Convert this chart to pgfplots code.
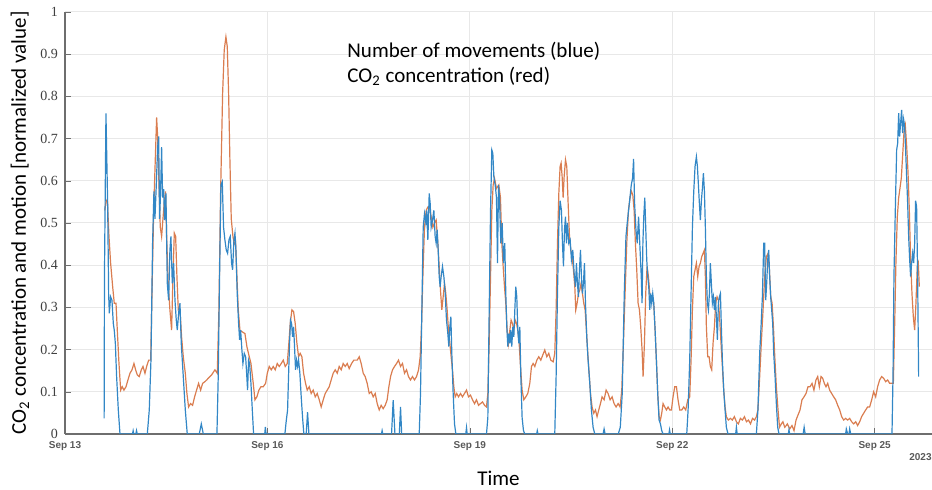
\documentclass[border=0pt]{standalone}
\usepackage{fontspec}
\setmainfont{Carlito}
\newfontfamily\tickserif{Liberation Serif}
\newfontfamily\ticksans{Liberation Sans}
\usepackage{pgfplots}
\pgfplotsset{compat=1.18}
\definecolor{mblue}{RGB}{50,135,198}
\definecolor{morange}{RGB}{218,125,80}
\definecolor{gridgray}{RGB}{232,232,232}
\definecolor{axgray}{RGB}{110,110,110}

% x = days after Sep 13 00:00
\pgfplotstableread{
d v
0.59 0.53
0.607 0.55
0.627 0.556
0.652 0.468
0.676 0.405
0.706 0.35
0.73 0.31
0.756 0.31
0.775 0.246
0.8 0.167
0.825 0.104
0.849 0.112
0.874 0.104
0.904 0.112
0.933 0.128
0.963 0.144
0.993 0.152
1.022 0.167
1.047 0.152
1.072 0.14
1.1 0.136
1.131 0.152
1.156 0.16
1.185 0.144
1.21 0.16
1.24 0.175
1.27 0.175
1.289 0.33
1.314 0.527
1.338 0.65
1.358 0.75
1.373 0.705
1.393 0.59
1.412 0.49
1.432 0.468
1.452 0.51
1.47 0.547
1.49 0.575
1.51 0.45
1.53 0.357
1.555 0.294
1.58 0.246
1.6 0.373
1.62 0.476
1.64 0.468
1.659 0.373
1.679 0.294
1.704 0.294
1.728 0.23
1.753 0.183
1.783 0.144
1.807 0.096
1.832 0.064
1.862 0.072
1.891 0.068
1.921 0.088
1.95 0.104
1.98 0.12
2.01 0.104
2.04 0.12
2.074 0.124
2.1 0.128
2.123 0.132
2.173 0.14
2.222 0.152
2.257 0.144
2.281 0.294
2.306 0.57
2.336 0.807
2.36 0.91
2.385 0.941
2.405 0.918
2.425 0.807
2.444 0.65
2.464 0.51
2.489 0.468
2.508 0.45
2.528 0.456
2.548 0.373
2.568 0.294
2.593 0.246
2.627 0.242
2.667 0.238
2.696 0.207
2.731 0.183
2.756 0.167
2.79 0.12
2.815 0.081
2.844 0.088
2.874 0.104
2.904 0.112
2.938 0.112
2.973 0.12
2.998 0.144
3.027 0.16
3.057 0.152
3.086 0.16
3.116 0.152
3.146 0.167
3.175 0.16
3.205 0.167
3.235 0.175
3.264 0.16
3.294 0.167
3.318 0.215
3.338 0.262
3.363 0.294
3.388 0.29
3.412 0.262
3.437 0.215
3.462 0.183
3.486 0.191
3.511 0.183
3.536 0.144
3.565 0.12
3.59 0.104
3.62 0.112
3.649 0.096
3.679 0.104
3.709 0.088
3.738 0.096
3.768 0.081
3.797 0.064
3.827 0.081
3.857 0.096
3.886 0.104
3.916 0.112
3.945 0.128
3.975 0.144
4.005 0.152
4.035 0.144
4.064 0.16
4.094 0.152
4.123 0.167
4.153 0.16
4.183 0.167
4.212 0.155
4.247 0.167
4.281 0.175
4.331 0.175
4.361 0.183
4.39 0.167
4.42 0.144
4.449 0.136
4.479 0.12
4.509 0.096
4.538 0.1
4.568 0.088
4.598 0.096
4.627 0.072
4.657 0.057
4.686 0.068
4.716 0.06
4.746 0.068
4.775 0.081
4.8 0.112
4.825 0.136
4.854 0.152
4.884 0.16
4.914 0.167
4.943 0.175
4.973 0.16
5.002 0.167
5.032 0.144
5.062 0.152
5.091 0.136
5.121 0.128
5.15 0.136
5.18 0.128
5.21 0.136
5.24 0.152
5.264 0.183
5.284 0.254
5.304 0.373
5.328 0.49
5.353 0.53
5.378 0.538
5.402 0.538
5.427 0.515
5.452 0.49
5.476 0.5
5.501 0.507
5.526 0.452
5.546 0.397
5.565 0.341
5.585 0.294
5.605 0.325
5.625 0.357
5.644 0.333
5.664 0.294
5.684 0.246
5.704 0.215
5.723 0.183
5.743 0.152
5.763 0.112
5.783 0.088
5.807 0.096
5.832 0.088
5.862 0.096
5.891 0.088
5.921 0.096
5.951 0.104
5.98 0.088
6.01 0.092
6.04 0.081
6.07 0.072
6.099 0.081
6.129 0.068
6.158 0.072
6.188 0.076
6.218 0.068
6.247 0.064
6.267 0.096
6.287 0.215
6.307 0.373
6.326 0.53
6.346 0.59
6.366 0.606
6.395 0.582
6.43 0.59
6.454 0.56
6.474 0.452
6.494 0.397
6.514 0.349
6.533 0.31
6.553 0.246
6.573 0.215
6.593 0.246
6.612 0.27
6.632 0.262
6.652 0.246
6.672 0.27
6.692 0.262
6.711 0.246
6.731 0.215
6.751 0.16
6.775 0.104
6.8 0.081
6.83 0.088
6.859 0.096
6.889 0.12
6.914 0.16
6.938 0.167
6.963 0.16
6.993 0.175
7.022 0.183
7.052 0.175
7.081 0.187
7.111 0.199
7.141 0.183
7.17 0.191
7.2 0.175
7.235 0.171
7.259 0.191
7.279 0.294
7.299 0.452
7.319 0.57
7.338 0.634
7.353 0.642
7.368 0.61
7.383 0.56
7.398 0.61
7.418 0.65
7.437 0.634
7.457 0.547
7.477 0.468
7.496 0.436
7.516 0.42
7.536 0.389
7.556 0.349
7.57 0.294
7.59 0.31
7.61 0.333
7.63 0.341
7.649 0.357
7.669 0.333
7.689 0.31
7.709 0.294
7.728 0.246
7.748 0.191
7.768 0.144
7.788 0.096
7.812 0.064
7.837 0.049
7.862 0.057
7.886 0.041
7.911 0.057
7.936 0.072
7.96 0.088
7.99 0.081
8.02 0.104
8.049 0.096
8.079 0.081
8.109 0.088
8.138 0.072
8.168 0.064
8.198 0.072
8.227 0.064
8.252 0.104
8.277 0.215
8.301 0.333
8.326 0.452
8.351 0.53
8.375 0.56
8.395 0.575
8.415 0.567
8.435 0.53
8.454 0.452
8.474 0.389
8.494 0.31
8.514 0.294
8.533 0.254
8.553 0.199
8.568 0.136
8.588 0.215
8.607 0.333
8.627 0.397
8.647 0.373
8.667 0.333
8.686 0.317
8.706 0.325
8.726 0.31
8.746 0.246
8.765 0.175
8.785 0.096
8.805 0.041
8.825 0.033
8.844 0.049
8.864 0.072
8.889 0.064
8.914 0.057
8.938 0.064
8.963 0.057
8.988 0.057
9.012 0.088
9.037 0.112
9.062 0.112
9.086 0.081
9.111 0.057
9.141 0.057
9.17 0.064
9.2 0.057
9.23 0.081
9.259 0.088
9.279 0.175
9.299 0.294
9.319 0.373
9.338 0.389
9.358 0.405
9.378 0.373
9.398 0.397
9.417 0.405
9.437 0.42
9.457 0.428
9.477 0.436
9.491 0.373
9.506 0.254
9.526 0.183
9.546 0.183
9.565 0.16
9.585 0.152
9.605 0.215
9.625 0.254
9.644 0.31
9.664 0.325
9.684 0.317
9.704 0.27
9.723 0.215
9.743 0.16
9.763 0.104
9.783 0.064
9.802 0.041
9.832 0.033
9.862 0.037
9.891 0.033
9.921 0.041
9.951 0.029
9.98 0.024
10.01 0.037
10.04 0.033
10.07 0.041
10.1 0.029
10.13 0.033
10.16 0.024
10.19 0.037
10.22 0.033
10.247 0.041
10.27 0.057
10.296 0.136
10.32 0.215
10.346 0.294
10.37 0.373
10.395 0.42
10.42 0.428
10.44 0.389
10.46 0.325
10.48 0.31
10.5 0.254
10.52 0.183
10.543 0.112
10.568 0.057
10.59 0.016
10.617 0.024
10.64 0.029
10.667 0.016
10.69 0.02
10.706 0.024
10.741 0.012
10.775 0.02
10.805 0.008
10.835 0.033
10.864 0.045
10.894 0.057
10.923 0.081
10.953 0.088
10.983 0.096
11.012 0.112
11.042 0.112
11.072 0.12
11.1 0.104
11.13 0.128
11.156 0.136
11.18 0.112
11.205 0.136
11.23 0.132
11.254 0.12
11.279 0.112
11.304 0.12
11.333 0.104
11.363 0.096
11.393 0.088
11.422 0.081
11.452 0.068
11.482 0.057
11.511 0.041
11.541 0.033
11.57 0.037
11.6 0.033
11.63 0.037
11.659 0.029
11.689 0.024
11.719 0.029
11.748 0.02
11.778 0.029
11.807 0.041
11.837 0.049
11.867 0.057
11.896 0.064
11.926 0.064
11.956 0.081
11.985 0.1
12.015 0.088
12.044 0.112
12.074 0.128
12.104 0.136
12.133 0.132
12.163 0.124
12.193 0.128
12.222 0.12
12.252 0.12
12.277 0.12
12.296 0.254
12.316 0.413
12.336 0.515
12.356 0.56
12.375 0.582
12.395 0.606
12.415 0.66
12.435 0.716
12.454 0.732
12.474 0.684
12.494 0.622
12.514 0.53
12.533 0.413
12.553 0.333
12.573 0.278
12.593 0.246
12.612 0.31
12.632 0.397
12.647 0.405
12.662 0.349
}\cotwo

\pgfplotstableread{
d v
0.58 0.037
0.585 0.377
0.607 0.76
0.632 0.547
0.647 0.33
0.657 0.286
0.676 0.325
0.696 0.317
0.716 0.262
0.73 0.246
0.746 0.215
0.765 0.136
0.79 0.057
0.815 0
1.0 0
1.01 0.008
1.02 0
1.05 0
1.06 0.008
1.07 0
1.22 0
1.249 0.057
1.274 0.175
1.298 0.45
1.318 0.575
1.333 0.51
1.353 0.59
1.373 0.68
1.388 0.705
1.402 0.51
1.417 0.575
1.432 0.68
1.447 0.56
1.462 0.58
1.476 0.507
1.496 0.57
1.516 0.357
1.536 0.317
1.555 0.436
1.57 0.468
1.59 0.357
1.61 0.405
1.63 0.317
1.649 0.27
1.664 0.246
1.689 0.294
1.704 0.31
1.723 0.215
1.753 0.136
1.783 0.057
1.812 0
1.99 0
2.02 0.024
2.05 0
2.252 0
2.271 0.136
2.291 0.373
2.311 0.59
2.331 0.598
2.35 0.49
2.37 0.46
2.39 0.436
2.41 0.428
2.43 0.46
2.449 0.468
2.469 0.405
2.484 0.389
2.504 0.46
2.519 0.476
2.533 0.436
2.553 0.33
2.573 0.262
2.588 0.223
2.603 0.246
2.622 0.199
2.637 0.167
2.657 0.191
2.677 0.183
2.692 0.144
2.706 0.104
2.721 0.175
2.736 0.167
2.756 0.12
2.776 0.057
2.795 0
2.96 0
2.97 0.017
2.98 0
3.259 0
3.279 0.031
3.299 0.057
3.313 0.136
3.328 0.215
3.343 0.27
3.358 0.262
3.373 0.23
3.388 0.254
3.402 0.207
3.417 0.152
3.432 0.175
3.447 0.16
3.462 0.175
3.481 0.144
3.501 0.088
3.521 0.039
3.54 0
3.575 0
3.595 0.052
3.615 0
4.69 0
4.7 0.008
4.71 0
4.84 0
4.864 0.08
4.89 0
4.955 0
4.973 0.064
4.99 0
5.25 0
5.269 0.096
5.289 0.294
5.309 0.49
5.328 0.522
5.348 0.5
5.363 0.53
5.378 0.46
5.398 0.57
5.412 0.547
5.427 0.49
5.447 0.507
5.467 0.53
5.486 0.468
5.501 0.452
5.516 0.484
5.531 0.436
5.546 0.373
5.56 0.349
5.575 0.373
5.595 0.397
5.615 0.373
5.635 0.333
5.654 0.27
5.674 0.238
5.689 0.207
5.704 0.254
5.719 0.278
5.733 0.191
5.753 0.096
5.773 0.024
5.793 0
5.94 0
5.951 0.015
5.96 0
6.247 0
6.267 0.039
6.287 0.294
6.307 0.53
6.326 0.673
6.341 0.665
6.356 0.61
6.376 0.59
6.395 0.56
6.41 0.405
6.425 0.59
6.44 0.56
6.459 0.452
6.479 0.5
6.499 0.405
6.518 0.452
6.533 0.333
6.548 0.254
6.563 0.207
6.578 0.238
6.593 0.215
6.607 0.246
6.622 0.207
6.637 0.254
6.652 0.23
6.667 0.294
6.681 0.349
6.696 0.325
6.711 0.246
6.726 0.215
6.741 0.254
6.756 0.136
6.775 0.039
6.795 0.008
6.815 0
6.99 0
7.0 0.008
7.01 0
7.259 0
7.279 0.136
7.299 0.333
7.319 0.49
7.338 0.553
7.358 0.53
7.373 0.452
7.388 0.397
7.403 0.484
7.418 0.515
7.432 0.452
7.447 0.5
7.467 0.452
7.487 0.46
7.506 0.413
7.526 0.436
7.546 0.381
7.566 0.349
7.58 0.405
7.595 0.357
7.61 0.325
7.625 0.389
7.64 0.436
7.654 0.373
7.669 0.333
7.684 0.357
7.699 0.405
7.714 0.31
7.733 0.23
7.753 0.175
7.778 0.12
7.802 0.057
7.827 0.016
7.852 0
7.975 0
7.99 0.012
8.005 0
8.2 0
8.23 0.016
8.259 0.096
8.289 0.333
8.314 0.468
8.333 0.5
8.353 0.53
8.373 0.56
8.393 0.59
8.412 0.606
8.427 0.652
8.442 0.547
8.462 0.484
8.481 0.452
8.501 0.515
8.521 0.444
8.541 0.373
8.553 0.31
8.565 0.452
8.578 0.515
8.593 0.56
8.607 0.49
8.622 0.413
8.637 0.373
8.652 0.349
8.667 0.294
8.681 0.333
8.696 0.31
8.711 0.333
8.726 0.31
8.746 0.246
8.765 0.175
8.785 0.096
8.805 0.033
8.825 0.024
8.844 0.008
8.864 0
8.95 0
8.96 0.01
8.97 0
9.215 0
9.235 0.057
9.259 0.175
9.279 0.333
9.299 0.49
9.319 0.575
9.338 0.634
9.358 0.657
9.373 0.634
9.388 0.59
9.402 0.547
9.417 0.507
9.432 0.553
9.447 0.582
9.462 0.618
9.477 0.575
9.491 0.49
9.506 0.373
9.521 0.31
9.536 0.294
9.551 0.333
9.565 0.405
9.58 0.357
9.595 0.31
9.61 0.325
9.625 0.294
9.64 0.325
9.654 0.278
9.669 0.223
9.684 0.31
9.699 0.325
9.714 0.333
9.728 0.254
9.743 0.175
9.763 0.104
9.783 0.057
9.802 0.016
9.827 0
9.94 0
9.951 0.016
9.962 0
10.247 0
10.27 0.057
10.296 0.191
10.316 0.254
10.336 0.325
10.356 0.452
10.37 0.452
10.385 0.317
10.4 0.357
10.415 0.413
10.43 0.436
10.444 0.373
10.459 0.325
10.474 0.294
10.489 0.262
10.504 0.191
10.524 0.136
10.543 0.072
10.563 0.016
10.583 0
10.72 0
10.73 0.01
10.74 0
10.94 0
10.955 0.016
10.97 0
11.57 0
11.58 0.012
11.6 0
11.62 0
11.63 0.012
11.645 0
12.257 0
12.272 0.136
12.286 0.373
12.306 0.53
12.326 0.673
12.341 0.689
12.356 0.76
12.37 0.705
12.385 0.737
12.4 0.768
12.415 0.713
12.43 0.745
12.444 0.729
12.459 0.673
12.474 0.61
12.489 0.547
12.504 0.468
12.519 0.413
12.533 0.373
12.548 0.405
12.563 0.428
12.578 0.405
12.593 0.452
12.607 0.553
12.622 0.538
12.637 0.373
12.652 0.136
}\moves

\begin{document}
\begin{tikzpicture}
\begin{axis}[
  name=ax,
  scale only axis,
  width=433.5pt, height=211pt,
  xmin=0, xmax=12.85, ymin=0, ymax=1,
  axis lines=left,
  axis line style={-, draw=axgray, line width=0.6pt},
  xtick={0,3,6,9,12},
  xticklabels={Sep 13,Sep 16,Sep 19,Sep 22,Sep 25},
  ytick={0,0.1,0.2,0.3,0.4,0.5,0.6,0.7,0.8,0.9,1},
  yticklabels={0,0.1,0.2,0.3,0.4,0.5,0.6,0.7,0.8,0.9,1},
  xticklabel style={font=\ticksans\bfseries\fontsize{5}{6}\selectfont, text=black!65},
  yticklabel style={font=\tickserif\fontsize{7}{8}\selectfont, text=black!75},
  grid=major,
  major grid style={gridgray, line width=0.5pt},
  tick align=inside, major tick length=3pt, tick style={axgray},
  xlabel={Time},
  ylabel={CO\textsubscript{2} concentration and motion [normalized value]},
  label style={font=\fontsize{10.5}{12}\selectfont},
  xlabel style={at={(axis description cs:0.5,-0.104)}, anchor=center},
  ylabel style={at={(axis description cs:-0.052,0.5)}, anchor=center},
]
\addplot[morange, line width=0.6pt] table[x=d, y=v] {\cotwo};
\addplot[mblue, line width=0.6pt] table[x=d, y=v] {\moves};
\node[anchor=base west, inner sep=0, font=\fontsize{10.5}{12}\selectfont] at (axis cs:4.18,0.891) {Number of movements (blue)};
\node[anchor=base west, inner sep=0, font=\fontsize{10.5}{12}\selectfont] at (axis cs:4.18,0.834) {CO\textsubscript{2} concentration (red)};
\end{axis}
\node[anchor=east, inner sep=0, font=\ticksans\bfseries\fontsize{5}{6}\selectfont, text=black!65] at ([yshift=-11.5pt]ax.south east) {2023};
\pgfresetboundingbox
\path[use as bounding box] ([xshift=-32.5pt,yshift=-28pt]ax.south west) rectangle ([yshift=6pt]ax.north east);
\end{tikzpicture}
\end{document}
